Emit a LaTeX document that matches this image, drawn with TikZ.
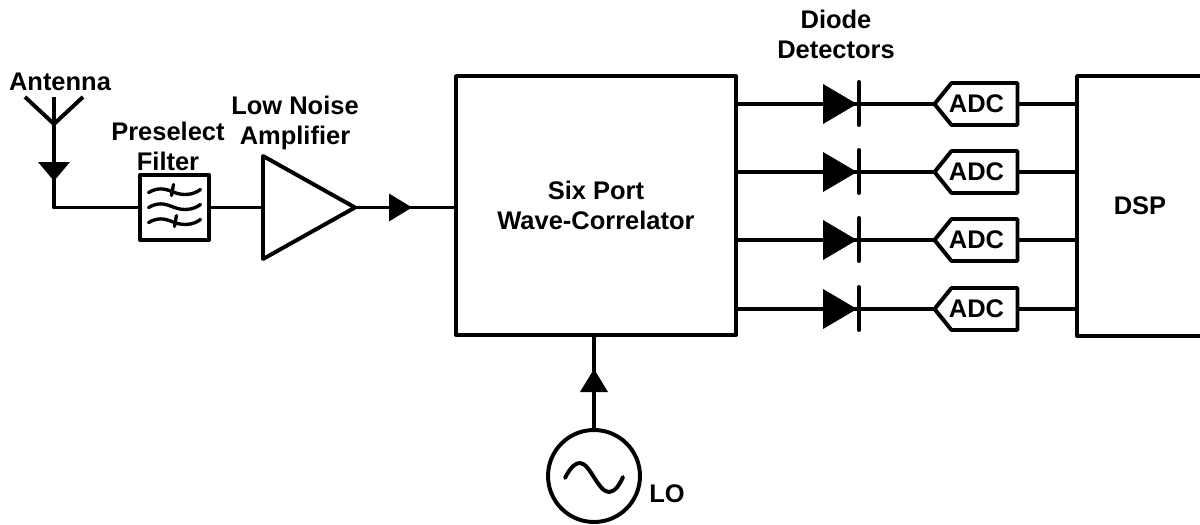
\documentclass[tikz,border=0pt]{standalone}
\usepackage{fontspec}
\setmainfont{Liberation Sans}
\usetikzlibrary{shapes.geometric,shapes.symbols}

\begin{document}
\begin{tikzpicture}[x=0.02cm,y=-0.02cm,line width=2.25pt,line join=round,
    every node/.style={font=\fontsize{14.5}{17}\selectfont\bfseries,align=center},
    block/.style={draw,rectangle,inner sep=0pt},
    tri/.style={isosceles triangle,isosceles triangle stretches,inner sep=0pt,outer sep=0pt},
    headtri/.style={tri,fill=black,minimum height=0.46cm,minimum width=0.56cm},
    diode/.style={tri,fill=black,minimum height=0.68cm,minimum width=0.8cm,anchor=apex},
    adc/.style={draw,signal,signal to=west,signal pointer angle=102,inner sep=0pt,outer sep=0pt,minimum width=1.66cm,minimum height=0.84cm}]
    \useasboundingbox (0,0) rectangle (1200,524);
    % antenna
    \coordinate (anttee) at (54,124);
    \draw (25,97) -- (anttee) -- (83,97);
    \draw (54,97) -- (anttee);
    \node at (60,82) {Antenna};
    % input chain
    \node[block,minimum width=1.38cm,minimum height=1.3cm] (filter) at (174.5,207.5) {};
    \node at (168,146) {Preselect\\Filter};
    \node[tri,draw,minimum height=1.84cm,minimum width=2.06cm,anchor=apex] (amp) at (355,207.5) {};
    \node at (295,123) {Low Noise\\Amplifier};
    \node[block,minimum width=5.6cm,minimum height=5.18cm] (corr) at (596,205.5) {Six Port\\Wave-Correlator};
    \node[block,minimum width=2.52cm,minimum height=5.2cm] (dsp) at (1140,206) {DSP};
    \draw (anttee) |- (filter.west);
    \draw (filter.east) -- (amp.lower side);
    \draw (amp.apex) -- (corr.west |- amp.apex);
    \node[headtri,minimum height=0.38cm,minimum width=0.64cm,rotate=-90,anchor=apex] (anthead) at (54,181) {};
    \node[headtri,anchor=apex] (amphead) at (412,207.5) {};
    % filter waves
    \begin{scope}[shift={(filter.center)},line width=1.9pt,line cap=round]
        \foreach \dy in {-15,0,15} {
            \draw (-26,\dy) .. controls (-14,\dy-7) and (-6,\dy-2) .. (0,\dy) .. controls (8,\dy+3) and (18,\dy+3) .. (26,\dy-3);
        }
        \draw (-1,-23) -- (-3,-12);
        \draw (2,8) -- (0,19);
    \end{scope}
    % detector rows
    \foreach \i/\y in {1/104,2/172,3/240,4/309} {
        \node[adc] (adc\i) at (984.5,\y) {};
        \node (adctext\i) at (976.5,\y) {ADC};
        \node[diode] (diode\i) at (857,\y) {};
        \draw (corr.east |- adc\i) -- (adc\i.west);
        \draw (adc\i.east) -- (dsp.west |- adc\i);
        \draw[line cap=round] (859,\y-22) -- (859,\y+21);
    }
    \node at (836,34) {Diode\\Detectors};
    % local oscillator
    \node[draw,circle,minimum size=1.84cm,inner sep=0pt] (lo) at (594,476) {};
    \draw (lo.north) -- (lo.north |- corr.south);
    \node[headtri,rotate=90,anchor=apex] (lohead) at (594,369) {};
    \draw[line cap=round] (565,478) .. controls (571,466) and (576,463) .. (580,463) .. controls (590,463) and (598,492) .. (609,492) .. controls (615,492) and (620,484) .. (623,477);
    \node at (667,494) {LO};
\end{tikzpicture}
\end{document}
